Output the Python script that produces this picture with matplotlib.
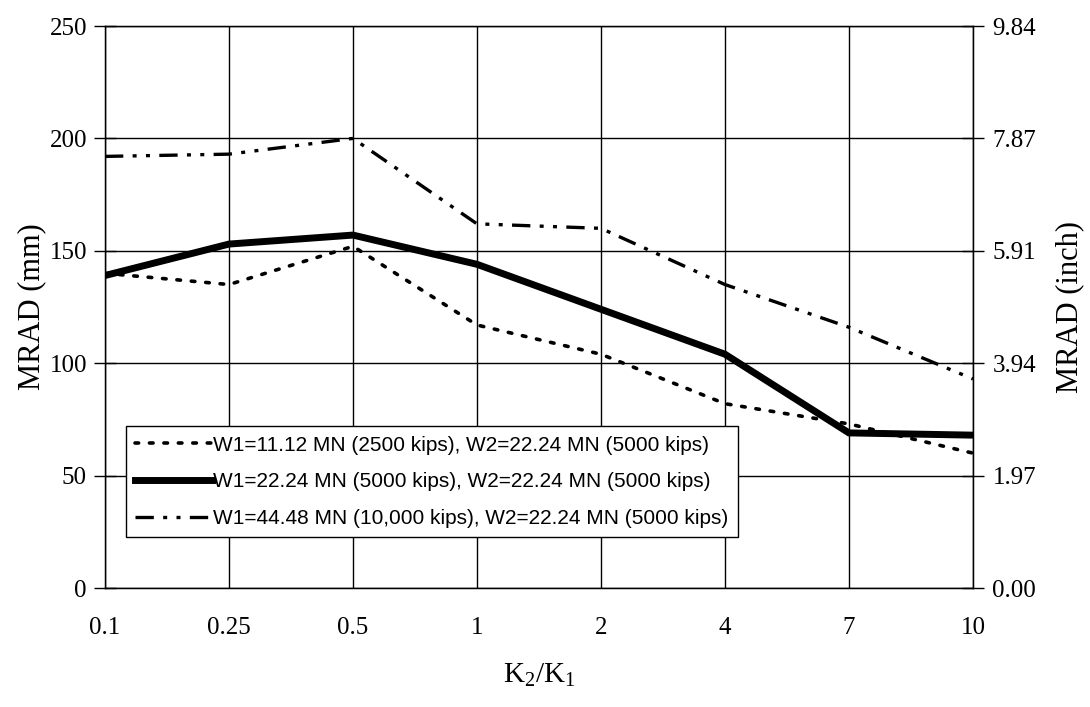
import matplotlib
matplotlib.use("Agg")
from matplotlib import pyplot as plt

# K2/K1 categories (equally spaced on the chart)
ratios = ["0.1", "0.25", "0.5", "1", "2", "4", "7", "10"]

# MRAD in mm for each weight combination
mrad_w1_11 = [140, 135, 152, 117, 104, 82, 73, 60]
mrad_w1_22 = [139, 153, 157, 144, 124, 104, 69, 68]
mrad_w1_44 = [192, 193, 200, 162, 160, 135, 116, 93]

labels = ["W1=11.12 MN (2500 kips), W2=22.24 MN (5000 kips)",
          "W1=22.24 MN (5000 kips), W2=22.24 MN (5000 kips)",
          "W1=44.48 MN (10,000 kips), W2=22.24 MN (5000 kips)"]

left_ticks = [0, 50, 100, 150, 200, 250]

serif = "Liberation Serif"
sans = "Liberation Sans"
plt.rcParams["mathtext.fontset"] = "custom"
plt.rcParams["mathtext.rm"] = serif
plt.rcParams["mathtext.it"] = serif

fig = plt.figure(figsize=(10.9, 7.07), dpi=100)
ax = fig.add_axes([0.0963, 0.1683, 0.7963, 0.7949])
x = range(len(ratios))

ax.plot(x, mrad_w1_11, color="black", lw=2.6, linestyle=(0, (1, 3)),
        dash_capstyle="round", label=labels[0])
ax.plot(x, mrad_w1_22, color="black", lw=5, solid_joinstyle="miter",
        label=labels[1])
ax.plot(x, mrad_w1_44, color="black", lw=2.4,
        linestyle=(0, (5.5, 2.8, 1.2, 2.8, 1.2, 2.8)), label=labels[2])

ax.set_xlim(0, len(ratios) - 1)
ax.set_ylim(0, 250)
ax.set_xticks(list(x))
ax.set_xticklabels(ratios, fontfamily=serif, fontsize=18)
ax.set_yticks(left_ticks)
ax.set_yticklabels([str(v) for v in left_ticks], fontfamily=serif, fontsize=18)
ax.tick_params(axis="x", length=0, pad=21)
ax.tick_params(axis="y", direction="inout", length=16, width=1, pad=5)
ax.grid(True, color="black", lw=1)
for s in ax.spines.values():
    s.set_linewidth(1)
    s.set_color("black")

ax.set_ylabel("MRAD (mm)", fontfamily=serif, fontsize=22, labelpad=2)
ax.set_xlabel("K$_2$/K$_1$", fontfamily=serif, fontsize=21, labelpad=16)

ax2 = ax.twinx()
ax2.set_ylim(0, 250)
ax2.set_yticks(left_ticks)
ax2.set_yticklabels([f"{v / 25.4:.2f}" for v in left_ticks],
                    fontfamily=serif, fontsize=18)
ax2.tick_params(axis="y", direction="inout", length=16, width=1, pad=6)
ax2.set_ylabel("MRAD (inch)", fontfamily=serif, fontsize=22, labelpad=14)

leg = ax.legend(loc="lower left", bbox_to_anchor=(0.024, 0.09),
                prop={"family": sans, "size": 15}, handlelength=3.7,
                handletextpad=0.05, labelspacing=0.85, borderpad=0.45,
                borderaxespad=0, fancybox=False, edgecolor="black",
                framealpha=1)
leg.get_frame().set_linewidth(1)

fig.savefig("out.png", dpi=100)
